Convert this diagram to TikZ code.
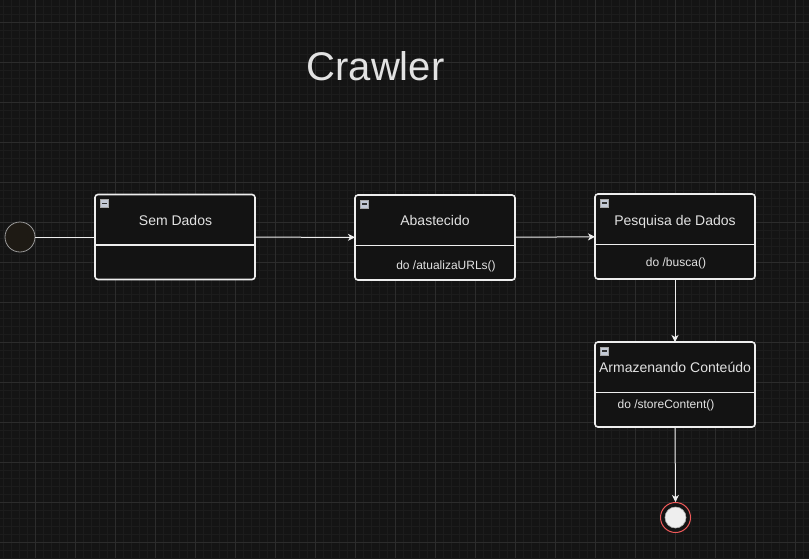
\documentclass[tikz,border=0pt]{standalone}
\usepackage{fontspec}
\setmainfont{Liberation Sans}
\usetikzlibrary{arrows.meta}
\definecolor{bgc}{HTML}{141414}
\definecolor{minorc}{HTML}{1C1C1C}
\definecolor{majorc}{HTML}{2C2C2C}
\definecolor{linec}{HTML}{EEEEEE}
\definecolor{boxc}{HTML}{131313}
\definecolor{txtc}{HTML}{E2E2E2}
\definecolor{iconc}{HTML}{C4CAD6}
\definecolor{initc}{HTML}{1E1A14}
\definecolor{redc}{HTML}{F05A5A}
\tikzset{
  minorline/.style={draw=minorc, line width=0.8pt},
  majorline/.style={draw=majorc, line width=0.8pt},
  statebox/.style={draw=linec, line width=1.6pt, rounded corners=3pt, fill=boxc, minimum width=160pt, minimum height=85pt, inner sep=0pt, outer sep=0pt},
  divider/.style={draw=linec, line width=1.6pt},
  titletxt/.style={text=txtc, font=\fontsize{40}{48}\selectfont, inner sep=0pt},
  nametxt/.style={text=txtc, font=\fontsize{14}{17}\selectfont, inner sep=0pt, anchor=base},
  bodytxt/.style={text=txtc, font=\fontsize{12}{14}\selectfont, inner sep=0pt, anchor=base},
  conn/.style={draw=linec, line width=1pt},
  arrowconn/.style={conn, -{Stealth[length=7pt,width=7pt,inset=2pt]}},
  iconbox/.style={fill=iconc, draw=gray!70, line width=0.6pt},
  iconminus/.style={draw=black!80, line width=1.2pt}
}
\newcommand\collapseicon[1]{%
  \filldraw[iconbox] ([xshift=5.5pt,yshift=-5pt]#1.north west) rectangle ++(8pt,-8pt);
  \draw[iconminus] ([xshift=7pt,yshift=-9pt]#1.north west) -- ++(5pt,0pt);
}
\begin{document}
\begin{tikzpicture}[x=1pt,y=-1pt]
\fill[bgc] (0,0) rectangle (809,558);
\useasboundingbox (0,0) rectangle (809,558);
\foreach \x in {3.5,11.5,...,805.5} \draw[minorline] (\x,0) -- (\x,558);
\foreach \y in {6,14,...,558} \draw[minorline] (0,\y) -- (809,\y);
\foreach \x in {35.5,75.5,...,795.5} \draw[majorline] (\x,0) -- (\x,558);
\foreach \y in {22,62,...,542} \draw[majorline] (0,\y) -- (809,\y);

\node[titletxt] (title) at (375.5,66) {Crawler};

\node[statebox] (sem) at (175,237) {};
\node[statebox] (abs) at (435,237.5) {};
\node[statebox] (pesq) at (675,236.5) {};
\node[statebox] (arm) at (675,384.5) {};

\foreach \n in {sem,abs,pesq,arm}{
  \draw[divider] ([yshift=-50.5pt]\n.north west) -- ([yshift=-50.5pt]\n.north east);
  \collapseicon{\n}
}

\node[nametxt] (semlbl) at (175.5,225.5) {Sem Dados};
\node[nametxt] (abslbl) at (435,225) {Abastecido};
\node[nametxt] (pesqlbl) at (675,225) {Pesquisa de Dados};
\node[nametxt] (armlbl) at (675,372) {Armazenando Conteúdo};

\node[bodytxt] (absbody) at (446,269) {do /atualizaURLs()};
\node[bodytxt] (pesqbody) at (676,266.5) {do /busca()};
\node[bodytxt] (armbody) at (666,408.5) {do /storeContent()};

\node[circle, draw=gray!80, fill=initc, line width=0.8pt, minimum size=30pt, inner sep=0pt] (init) at (20,237) {};
\node[circle, draw=redc, fill=bgc, line width=1pt, minimum size=30pt, inner sep=0pt] (endst) at (675.5,517.5) {};
\node[circle, draw=gray!60, fill=linec, line width=0.6pt, minimum size=21pt, inner sep=0pt] (endin) at (endst) {};

\draw[conn] (init) -- (sem);
\draw[arrowconn] (sem) -- (abs);
\draw[arrowconn] (abs) -- (pesq);
\draw[arrowconn] (pesq.south) -- (arm.north);
\draw[arrowconn] (arm.south) -- (endst.north);
\end{tikzpicture}
\end{document}
